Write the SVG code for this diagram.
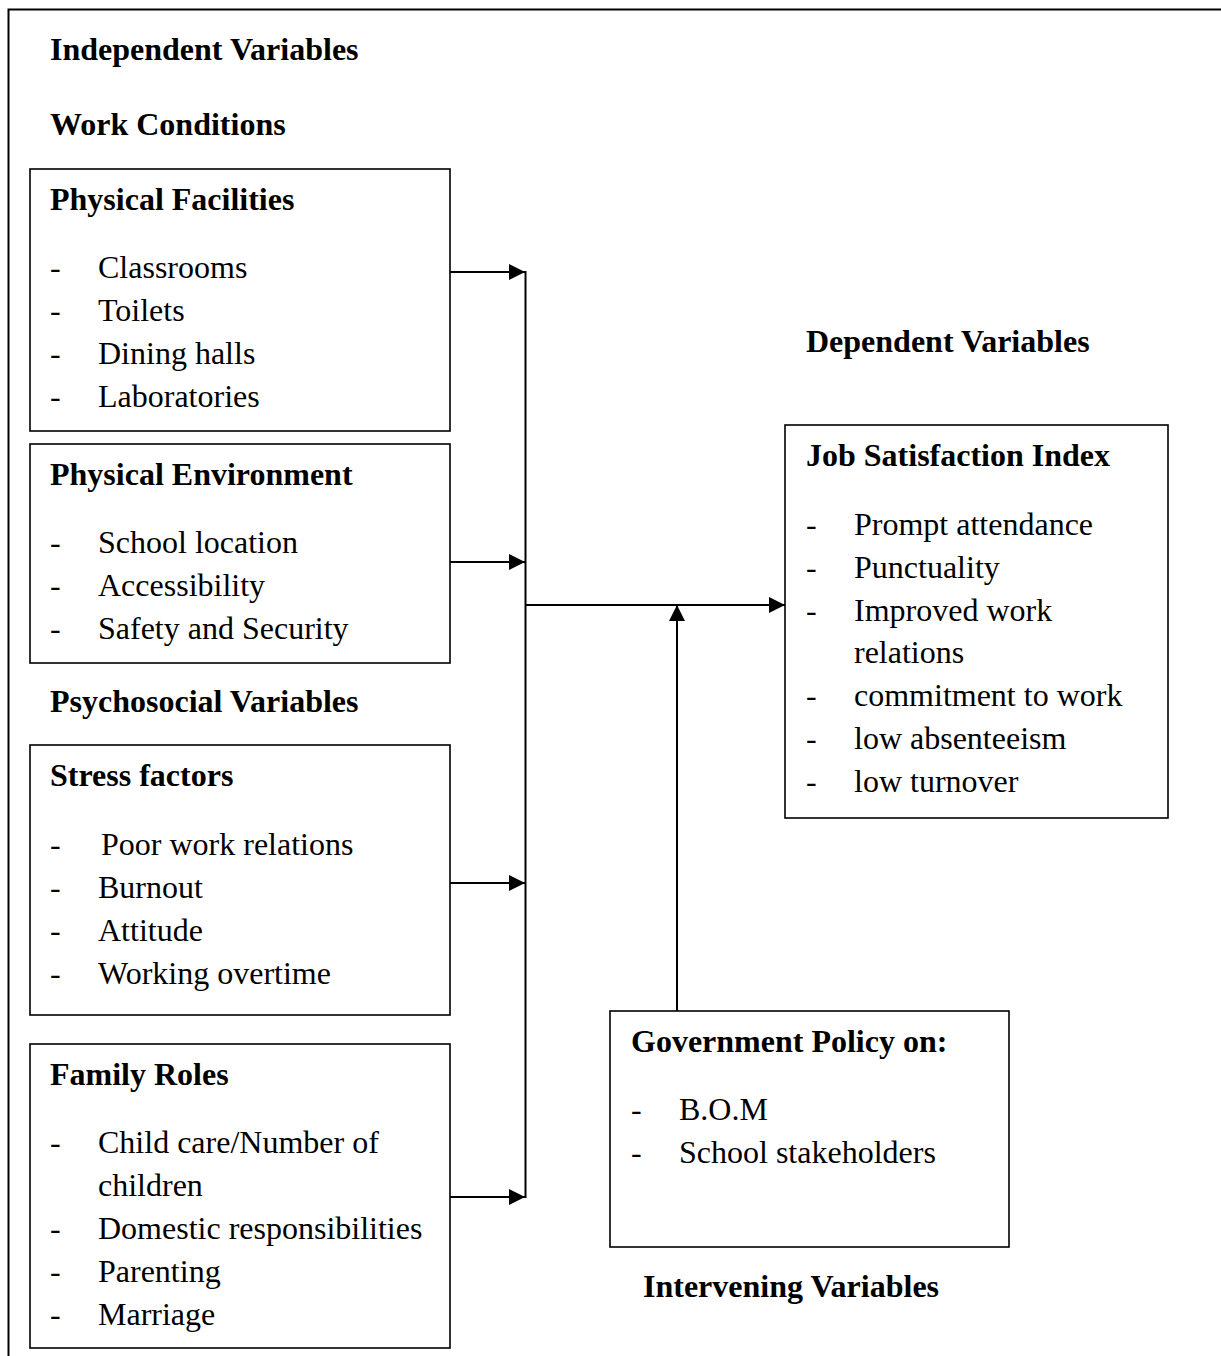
<svg xmlns="http://www.w3.org/2000/svg" width="1221" height="1356" viewBox="0 0 1221 1356">
<style>
text{font-family:"Liberation Serif","Times New Roman",serif;font-size:32px;fill:#000}
.b{font-weight:bold}
.box{fill:#fff;stroke:#000;stroke-width:1.6}
.c{fill:none;stroke:#000;stroke-width:2}
</style>
<defs>
<marker id="ah" markerUnits="userSpaceOnUse" markerWidth="17" markerHeight="17" refX="16" refY="8" orient="auto">
<path d="M0,0 L16,8 L0,16 z" fill="#000"/>
</marker>
</defs>
<rect x="0" y="0" width="1221" height="1356" fill="#fff"/>
<path d="M8.5,1356 L8.5,9.5 L1221,9.5" fill="none" stroke="#000" stroke-width="2"/>
<g id="labels">
<text class="b" x="50" y="60">Independent Variables</text>
<text class="b" x="50" y="135">Work Conditions</text>
<text class="b" x="50" y="712">Psychosocial Variables</text>
<text class="b" x="806" y="352">Dependent Variables</text>
<text class="b" x="643" y="1297">Intervening Variables</text>
</g>
<g id="physical-facilities">
<rect class="box" x="30" y="169" width="420" height="262"/>
<text class="b" x="50" y="210">Physical Facilities</text>
<text x="50" y="278">-</text><text x="98" y="278">Classrooms</text>
<text x="50" y="321">-</text><text x="98" y="321">Toilets</text>
<text x="50" y="364">-</text><text x="98" y="364">Dining halls</text>
<text x="50" y="407">-</text><text x="98" y="407">Laboratories</text>
</g>
<g id="physical-environment">
<rect class="box" x="30" y="444" width="420" height="219"/>
<text class="b" x="50" y="485">Physical Environment</text>
<text x="50" y="553">-</text><text x="98" y="553">School location</text>
<text x="50" y="596">-</text><text x="98" y="596">Accessibility</text>
<text x="50" y="639">-</text><text x="98" y="639">Safety and Security</text>
</g>
<g id="stress-factors">
<rect class="box" x="30" y="745" width="420" height="270"/>
<text class="b" x="50" y="786">Stress factors</text>
<text x="50" y="855">-</text><text x="101" y="855">Poor work relations</text>
<text x="50" y="898">-</text><text x="98" y="898">Burnout</text>
<text x="50" y="941">-</text><text x="98" y="941">Attitude</text>
<text x="50" y="984">-</text><text x="98" y="984">Working overtime</text>
</g>
<g id="family-roles">
<rect class="box" x="30" y="1044" width="420" height="304"/>
<text class="b" x="50" y="1085">Family Roles</text>
<text x="50" y="1153">-</text><text x="98" y="1153">Child care/Number of</text>
<text x="98" y="1196">children</text>
<text x="50" y="1239">-</text><text x="98" y="1239">Domestic responsibilities</text>
<text x="50" y="1282">-</text><text x="98" y="1282">Parenting</text>
<text x="50" y="1325">-</text><text x="98" y="1325">Marriage</text>
</g>
<g id="job-satisfaction">
<rect class="box" x="785" y="425" width="383" height="393"/>
<text class="b" x="806" y="466">Job Satisfaction Index</text>
<text x="806" y="535">-</text><text x="854" y="535">Prompt attendance</text>
<text x="806" y="578">-</text><text x="854" y="578">Punctuality</text>
<text x="806" y="621">-</text><text x="854" y="621">Improved work</text>
<text x="854" y="663">relations</text>
<text x="806" y="706">-</text><text x="854" y="706">commitment to work</text>
<text x="806" y="749">-</text><text x="854" y="749">low absenteeism</text>
<text x="806" y="792">-</text><text x="854" y="792">low turnover</text>
</g>
<g id="government-policy">
<rect class="box" x="610" y="1011" width="399" height="236"/>
<text class="b" x="631" y="1052">Government Policy on:</text>
<text x="631" y="1120">-</text><text x="679" y="1120">B.O.M</text>
<text x="631" y="1163">-</text><text x="679" y="1163">School stakeholders</text>
</g>
<g id="connectors">
<line class="c" x1="525.5" y1="271" x2="525.5" y2="1198"/>
<line class="c" x1="450" y1="272" x2="525" y2="272" marker-end="url(#ah)"/>
<line class="c" x1="450" y1="562" x2="525" y2="562" marker-end="url(#ah)"/>
<line class="c" x1="450" y1="883" x2="525" y2="883" marker-end="url(#ah)"/>
<line class="c" x1="450" y1="1197" x2="525" y2="1197" marker-end="url(#ah)"/>
<line class="c" x1="525" y1="605" x2="785" y2="605" marker-end="url(#ah)"/>
<line class="c" x1="677" y1="1011" x2="677" y2="605" marker-end="url(#ah)"/>
</g>
</svg>
